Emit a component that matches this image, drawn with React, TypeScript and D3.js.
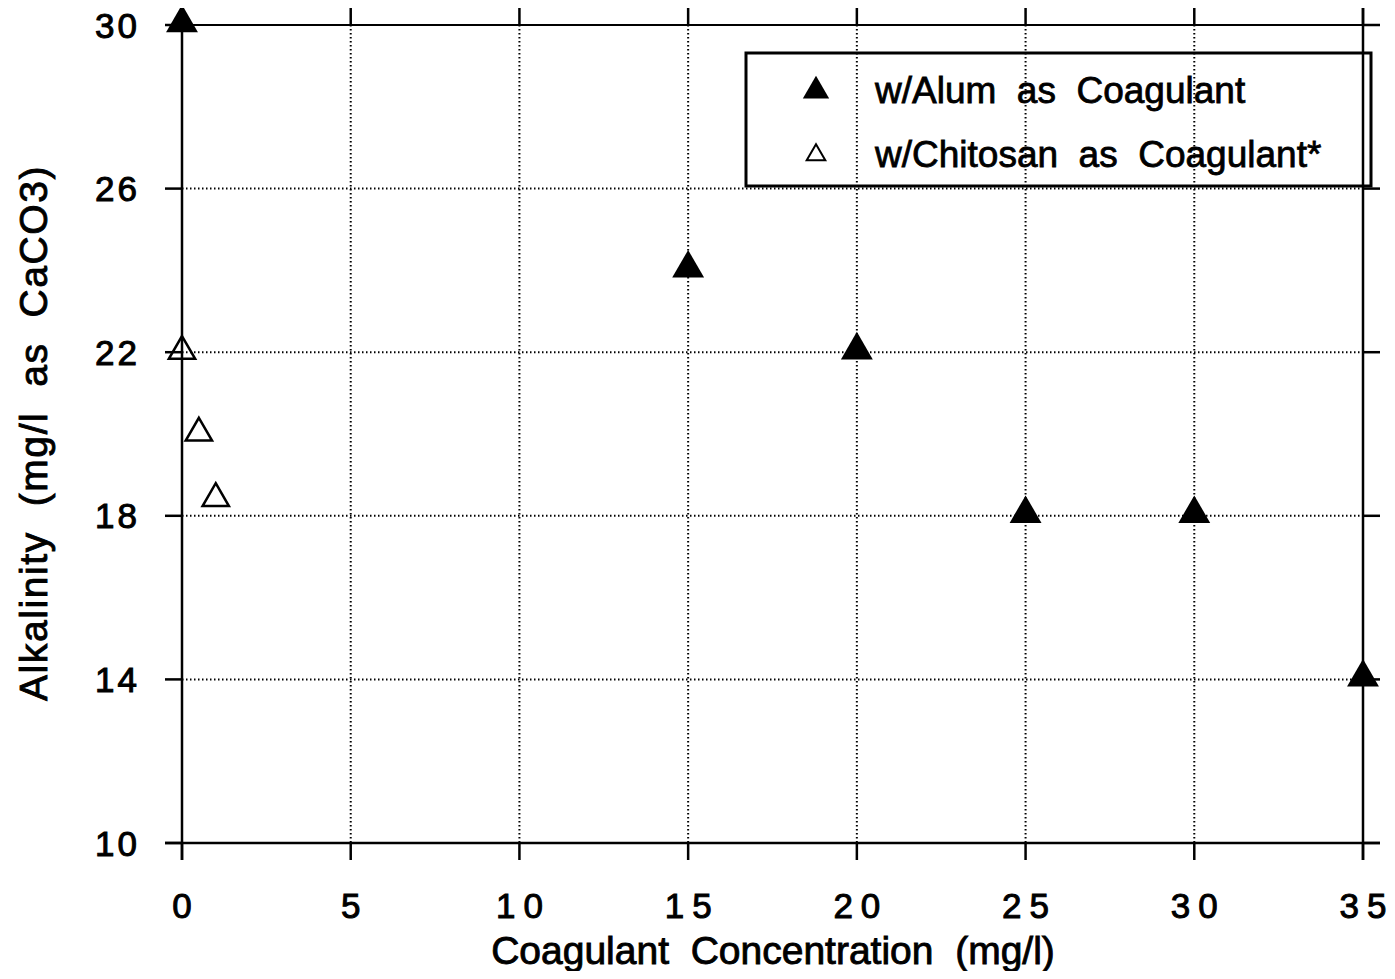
import React, { useRef, useEffect } from 'react';
import * as d3 from 'd3';

const alumX = [0, 15, 20, 25, 30, 35];
const alumY = [30, 24, 22, 18, 18, 14];
const chitosanX = [0, 0.5, 1];
const chitosanY = [22, 20, 18.4];
const xTicks = [0, 5, 10, 15, 20, 25, 30, 35];
const yTicks = [10, 14, 18, 22, 26, 30];
const legendLabels = ['w/Alum  as  Coagulant', 'w/Chitosan  as  Coagulant*'];

const App = () => {
  const svgRef = useRef(null);

  useEffect(() => {
    const width = 1395;
    const height = 979;
    const margin = { top: 25, right: 32, bottom: 136, left: 182 };
    const font = '"Liberation Sans", Arial, sans-serif';

    d3.select(svgRef.current).selectAll('*').remove();
    const svg = d3.select(svgRef.current)
      .attr('width', width)
      .attr('height', height)
      .style('display', 'block')
      .style('background', '#fff');

    const innerWidth = width - margin.left - margin.right;
    const innerHeight = height - margin.top - margin.bottom;

    const x = d3.scaleLinear().domain([0, 35]).range([margin.left, margin.left + innerWidth]);
    const y = d3.scaleLinear().domain([10, 30]).range([margin.top + innerHeight, margin.top]);

    const g = svg.append('g');

    // dotted grid
    g.selectAll('.vgrid')
      .data(xTicks.filter(d => d > 0 && d < 35))
      .enter()
      .append('line')
      .attr('x1', d => x(d)).attr('x2', d => x(d))
      .attr('y1', y(30)).attr('y2', y(10))
      .attr('stroke', '#000').attr('stroke-width', 2)
      .attr('stroke-dasharray', '1.5,2.5');
    g.selectAll('.hgrid')
      .data(yTicks.filter(d => d > 10 && d < 30))
      .enter()
      .append('line')
      .attr('x1', x(0)).attr('x2', x(35))
      .attr('y1', d => y(d)).attr('y2', d => y(d))
      .attr('stroke', '#000').attr('stroke-width', 2)
      .attr('stroke-dasharray', '1.5,2.5');

    // frame
    const frame = g.append('g').attr('stroke', '#000').attr('stroke-width', 2.5);
    frame.append('line').attr('x1', x(0)).attr('x2', x(0)).attr('y1', y(30) - 17).attr('y2', y(10) + 17);
    frame.append('line').attr('x1', x(35)).attr('x2', x(35)).attr('y1', y(30) - 17).attr('y2', y(10) + 17);
    frame.append('line').attr('x1', x(0) - 17).attr('x2', x(35) + 17).attr('y1', y(10)).attr('y2', y(10));
    frame.append('line').attr('x1', x(0) - 17).attr('x2', x(35) + 17).attr('y1', y(30)).attr('y2', y(30)).attr('stroke-width', 2);

    // ticks on all four sides
    const tickLen = 17;
    g.selectAll('.xtick')
      .data(xTicks)
      .enter()
      .append('line')
      .attr('x1', d => x(d)).attr('x2', d => x(d))
      .attr('y1', y(10)).attr('y2', y(10) + tickLen)
      .attr('stroke', '#000').attr('stroke-width', 2.5);
    g.selectAll('.xtickTop')
      .data(xTicks)
      .enter()
      .append('line')
      .attr('x1', d => x(d)).attr('x2', d => x(d))
      .attr('y1', y(30) - tickLen).attr('y2', y(30))
      .attr('stroke', '#000').attr('stroke-width', 2.5);
    g.selectAll('.ytick')
      .data(yTicks)
      .enter()
      .append('line')
      .attr('x1', x(0) - tickLen).attr('x2', x(0))
      .attr('y1', d => y(d)).attr('y2', d => y(d))
      .attr('stroke', '#000').attr('stroke-width', 2.5);
    g.selectAll('.ytickR')
      .data(yTicks)
      .enter()
      .append('line')
      .attr('x1', x(35)).attr('x2', x(35) + tickLen)
      .attr('y1', d => y(d)).attr('y2', d => y(d))
      .attr('stroke', '#000').attr('stroke-width', 2.5);

    // tick labels
    g.selectAll('.xlabel')
      .data(xTicks)
      .enter()
      .append('text')
      .attr('x', d => x(d) + 4)
      .attr('y', y(10) + 75)
      .attr('text-anchor', 'middle')
      .style('font-family', font)
      .style('font-size', '35px')
      .style('letter-spacing', '8px')
      .attr('stroke', '#000').attr('stroke-width', 1)
      .text(d => String(d));
    g.selectAll('.ylabel')
      .data(yTicks)
      .enter()
      .append('text')
      .attr('x', x(0) - 42)
      .attr('y', d => y(d) + 12.5)
      .attr('text-anchor', 'end')
      .style('font-family', font)
      .style('font-size', '35px')
      .style('letter-spacing', '3px')
      .attr('stroke', '#000').attr('stroke-width', 1)
      .text(d => String(d));

    // axis titles
    svg.append('text')
      .attr('x', 773)
      .attr('y', 964)
      .attr('text-anchor', 'middle')
      .style('font-family', font)
      .style('font-size', '39px')
      .style('white-space', 'pre')
      .attr('stroke', '#000').attr('stroke-width', 0.9)
      .text('Coagulant  Concentration  (mg/l)');
    svg.append('text')
      .attr('transform', 'translate(47, 433) rotate(-90)')
      .attr('text-anchor', 'middle')
      .style('font-family', font)
      .style('font-size', '39px')
      .style('letter-spacing', '1.6px')
      .style('white-space', 'pre')
      .attr('stroke', '#000').attr('stroke-width', 0.9)
      .text('Alkalinity  (mg/l  as  CaCO3)');

    const tri = d3.symbol().type(d3.symbolTriangle).size(440);
    const triSmall = d3.symbol().type(d3.symbolTriangle).size(300);

    // alum points
    g.selectAll('.alum')
      .data(alumX.map((d, i) => [d, alumY[i]]))
      .enter()
      .append('path')
      .attr('d', tri)
      .attr('transform', d => `translate(${x(d[0])},${y(d[1]) - 2})`)
      .attr('fill', '#000');

    // chitosan points
    g.selectAll('.chitosan')
      .data(chitosanX.map((d, i) => [d, chitosanY[i]]))
      .enter()
      .append('path')
      .attr('d', triSmall)
      .attr('transform', d => `translate(${x(d[0])},${y(d[1]) - 1})`)
      .attr('fill', 'none')
      .attr('stroke', '#000')
      .attr('stroke-width', 2.5);

    // legend
    const lg = svg.append('g');
    lg.append('rect')
      .attr('x', 746).attr('y', 53)
      .attr('width', 625).attr('height', 133)
      .attr('fill', 'none')
      .attr('stroke', '#000').attr('stroke-width', 3);
    lg.append('path').attr('d', triSmall).attr('transform', 'translate(816,91)').attr('fill', '#000');
    lg.append('path').attr('d', d3.symbol().type(d3.symbolTriangle).size(150))
      .attr('transform', 'translate(816,155)').attr('fill', 'none')
      .attr('stroke', '#000').attr('stroke-width', 2);
    lg.selectAll('.ltext')
      .data(legendLabels)
      .enter()
      .append('text')
      .attr('x', 875)
      .attr('y', (d, i) => 103 + i * 64)
      .style('font-family', font)
      .style('font-size', '37px')
      .style('white-space', 'pre')
      .attr('stroke', '#000').attr('stroke-width', 0.8)
      .text(d => d);
  }, []);

  return (
    <div style={{ margin: -8 }}>
      <svg ref={svgRef}></svg>
    </div>
  );
};

export default App;
